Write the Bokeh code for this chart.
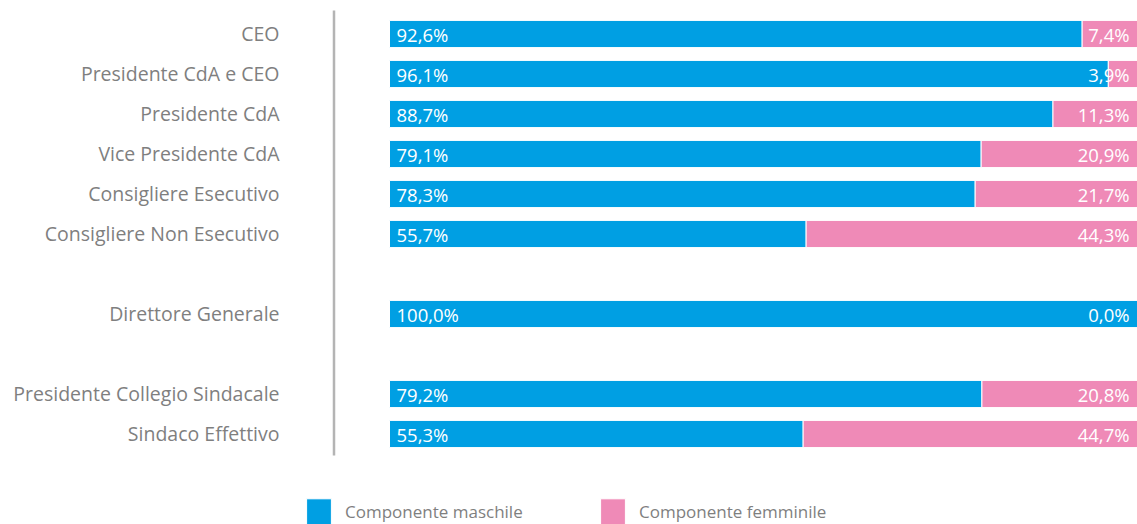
from bokeh.plotting import figure
from bokeh.models import ColumnDataSource, Range1d, Legend, LegendItem
from bokeh.core.properties import value
from bokeh.embed import file_html
from bokeh.resources import INLINE

# ---- data ----
categories = [
    "CEO",
    "Presidente CdA e CEO",
    "Presidente CdA",
    "Vice Presidente CdA",
    "Consigliere Esecutivo",
    "Consigliere Non Esecutivo",
    "Direttore Generale",
    "Presidente Collegio Sindacale",
    "Sindaco Effettivo",
]
maschile = [92.6, 96.1, 88.7, 79.1, 78.3, 55.7, 100.0, 79.2, 55.3]
femminile = [7.4, 3.9, 11.3, 20.9, 21.7, 44.3, 0.0, 20.8, 44.7]
gruppi = [0, 0, 0, 0, 0, 0, 1, 2, 2]  # one blank row between groups
series_names = ["Componente maschile", "Componente femminile"]

# ---- style ----
BLUE = "#009FE3"
PINK = "#EF8AB7"
GRAY_TXT = "#7F7F7F"
GRAY_LINE = "#B4B4B4"
FONT = "Open Sans"

PX = 100 / 748.0          # data units per pixel on x (100% = 748 px)
ROW = 40.0                # pixels per row

def fmt(v):
    return f"{v:.1f}".replace(".", ",") + "%"

rows = [i + g for i, g in enumerate(gruppi)]
src = ColumnDataSource(dict(
    cat=categories,
    y=rows,
    m_end=maschile,
    total=[a + b for a, b in zip(maschile, femminile)],
    m_lbl=[fmt(v) for v in maschile],
    f_lbl=[fmt(v) for v in femminile],
    zero=[0] * len(categories),
))

W, H = 1137, 524
p = figure(
    width=W, height=H,
    output_backend="svg", toolbar_location=None,
    x_range=Range1d(-389 * PX, 100),
    y_range=Range1d((H - 33.5) / ROW, (0 - 33.5) / ROW),
    x_axis_location=None, y_axis_location=None,
    min_border=0,
)
p.grid.visible = False
p.outline_line_color = None
p.background_fill_color = "white"

r_m = p.hbar(y="y", left="zero", right="m_end", height=0.68, source=src,
             fill_color=BLUE, line_color="white", line_width=1)
r_f = p.hbar(y="y", left="m_end", right="total", height=0.68, source=src,
             fill_color=PINK, line_color="white", line_width=1)

# value labels
p.text(x="zero", y="y", text="m_lbl", source=src, x_offset=7, y_offset=0,
       text_align="left", text_baseline="middle", text_color="white",
       text_font=value(FONT), text_font_size="18.5px")
p.text(x="total", y="y", text="f_lbl", source=src, x_offset=-8, y_offset=0,
       text_align="right", text_baseline="middle", text_color="white",
       text_font=value(FONT), text_font_size="18.5px")

# category labels
p.text(x="zero", y="y", text="cat", source=src, x_offset=-110, y_offset=-1,
       text_align="right", text_baseline="middle", text_color=GRAY_TXT,
       text_font=value(FONT), text_font_size="19.5px")

# vertical separator line
p.segment(x0=[-55.5 * PX], y0=[min(rows) - 0.59], x1=[-55.5 * PX], y1=[max(rows) + 0.54],
          line_color=GRAY_LINE, line_width=2.5)

# legends
for r, name, x in [(r_m, series_names[0], 303), (r_f, series_names[1], 597)]:
    lg = Legend(items=[LegendItem(label=name, renderers=[r])],
                location=(x, -4), orientation="horizontal",
                padding=0, margin=0, border_line_color=None,
                background_fill_alpha=0, glyph_width=31, glyph_height=33,
                label_height=33, label_standoff=11,
                label_text_font=FONT, label_text_font_size="17px",
                label_text_color=GRAY_TXT)
    p.add_layout(lg, "center")

open("out.html", "w").write(file_html(p, INLINE))
